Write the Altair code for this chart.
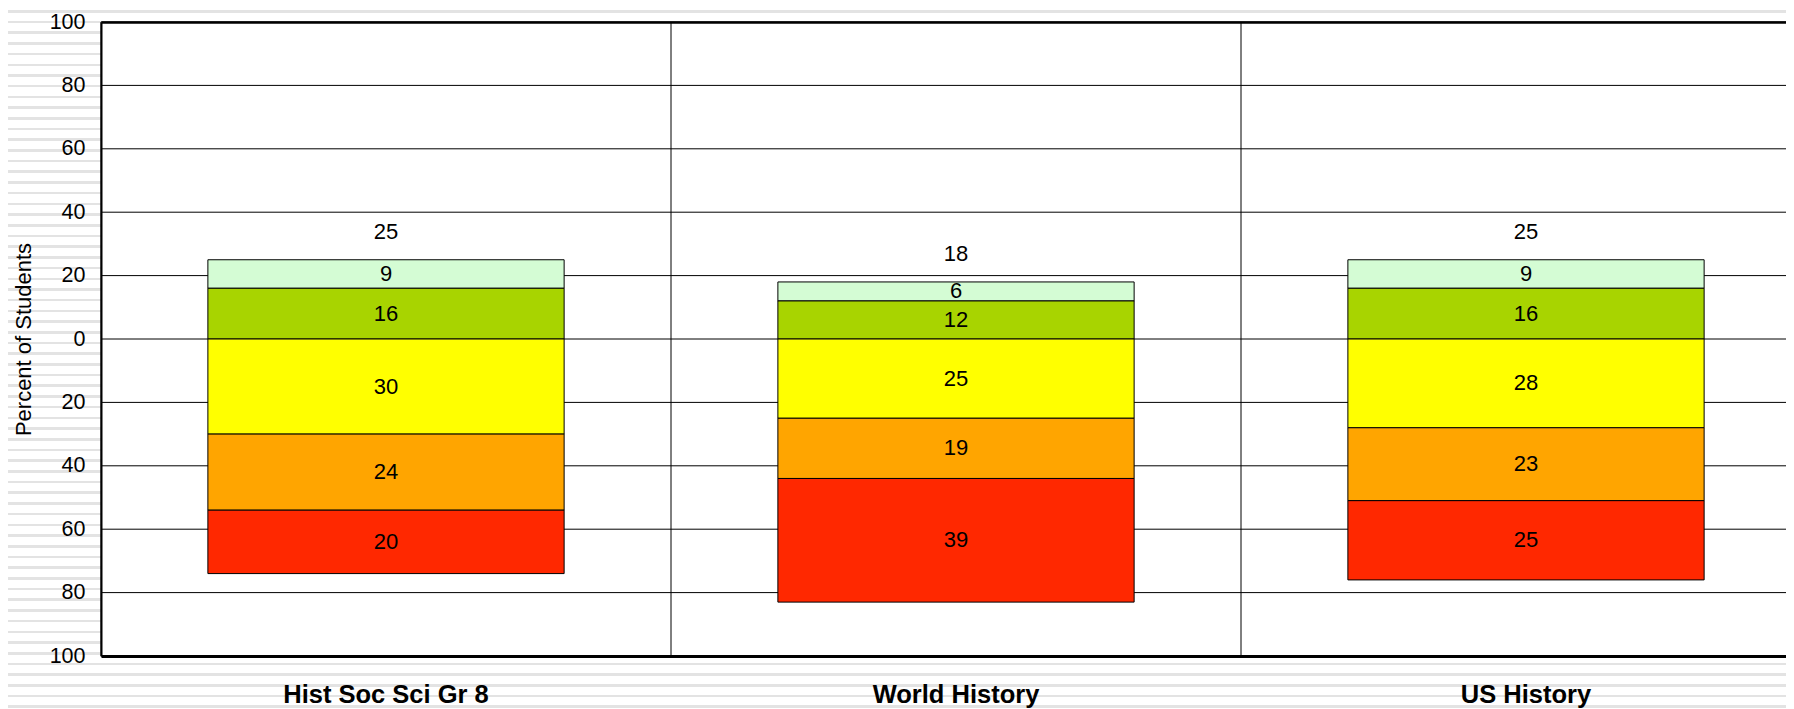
import altair as alt
import pandas as pd

# ---------------- data ----------------
categories = ["Hist Soc Sci Gr 8", "World History", "US History"]
levels = ["L5", "L4", "L3", "L2", "L1"]
level5 = [9, 6, 9]        # light green (top, above 0)
level4 = [16, 12, 16]     # green (above 0)
level3 = [30, 25, 28]     # yellow (below 0)
level2 = [24, 19, 23]     # orange (below 0)
level1 = [20, 39, 25]     # red (below 0)
totals = [25, 18, 25]     # total above zero
level_colors = ["#D4FCD4", "#A8D400", "#FFFF00", "#FFA500", "#FF2800"]
y_ticks = [-100, -80, -60, -40, -20, 0, 20, 40, 60, 80, 100]

spec = [("L5", level5, 1, 1), ("L4", level4, 1, 0),
        ("L3", level3, -1, 0), ("L2", level2, -1, 1), ("L1", level1, -1, 2)]
rows = []
for i, c in enumerate(categories):
    for lvl, vals, sign, rank in spec:
        rows.append({"cat": c, "level": lvl, "value": vals[i],
                     "signed": sign * vals[i], "rank": rank})
df = pd.DataFrame(rows)
tot_df = pd.DataFrame({"cat": categories, "total": totals})
grid_df = pd.DataFrame({"v": y_ticks})
cat_df = pd.DataFrame({"cat": categories})

# ---------------- layout ----------------
W, H = 1685, 634
PAD_L, PAD_T, PAD_B = 93, 14, 53
FONT = "Liberation Sans"

# background stripes (decoration) as hard-stop gradients
STRIPE_START = -12.0
STRIPE_PERIOD = 10.7
STRIPE_THICK = 2.6
STRIPE_COLOR = "#e3e3e3"


def stripes(y0, y1):
    span = y1 - y0
    stops = [{"offset": 0.0, "color": "white"}]
    k = 0
    while True:
        s = STRIPE_START + k * STRIPE_PERIOD
        e = s + STRIPE_THICK
        k += 1
        if s > y1:
            break
        if e < y0:
            continue
        a = max(0.0, (s - y0) / span)
        b = min(1.0, (e - y0) / span)
        stops.append({"offset": a, "color": "white"})
        stops.append({"offset": a, "color": STRIPE_COLOR})
        stops.append({"offset": b, "color": STRIPE_COLOR})
        stops.append({"offset": b, "color": "white"})
    stops.append({"offset": 1.0, "color": "white"})
    return {"gradient": "linear", "x1": 0, "y1": 0, "x2": 0, "y2": 1, "stops": stops}


one = alt.Data(values=[{"a": 1}])
top_y, bot_y = -PAD_T, H + PAD_B
left_bg = alt.Chart(one).mark_rect(fill=stripes(top_y, bot_y), strokeWidth=0).encode(
    x=alt.value(-PAD_L), x2=alt.value(0), y=alt.value(top_y), y2=alt.value(bot_y))
top_bg = alt.Chart(one).mark_rect(fill=stripes(top_y, 0), strokeWidth=0).encode(
    x=alt.value(0), x2=alt.value(W), y=alt.value(top_y), y2=alt.value(0))
bot_bg = alt.Chart(one).mark_rect(fill=stripes(H, bot_y), strokeWidth=0).encode(
    x=alt.value(0), x2=alt.value(W), y=alt.value(H), y2=alt.value(bot_y))

# ---------------- scales / axes ----------------
xscale = alt.Scale(domain=categories, range=[0, 1710], paddingInner=0, paddingOuter=0)
yscale = alt.Scale(domain=[-100, 100], nice=False, zero=False)

x_bottom = alt.Axis(orient="bottom", title=None, grid=False, ticks=False, tickSize=0,
                    labelAngle=0, labelFont=FONT, labelFontSize=25.5, labelFontWeight="bold",
                    labelColor="black", labelPadding=46, labelBaseline="alphabetic",
                    labelLimit=0, domainColor="black", domainWidth=3, zindex=1)
x_top = alt.Axis(orient="top", title=None, labels=False, ticks=False, tickSize=0,
                 grid=False, domainColor="black", domainWidth=2.5, zindex=1)
y_axis = alt.Axis(values=y_ticks, labelExpr="abs(datum.value)", title="Percent of Students",
                  grid=False, domainColor="black", domainWidth=2, ticks=False, tickSize=0,
                  labelPadding=16, labelFont=FONT, labelFontSize=21.5, labelColor="black",
                  titleFont=FONT, titleFontSize=22, titleFontWeight="normal", titleColor="black",
                  titleAngle=270, titleBaseline="alphabetic", titleX=-71, zindex=1)

# horizontal and vertical grid lines, drawn behind the bars
hgrid = alt.Chart(grid_df).mark_rule(color="black", strokeWidth=1).encode(
    y=alt.Y("v:Q", scale=yscale, axis=None))
vgrid = alt.Chart(cat_df).mark_rule(color="black", strokeWidth=1).encode(
    x=alt.X("cat:N", sort=categories, scale=xscale, axis=None, bandPosition=0))

base = alt.Chart(df).transform_stack(
    stack="signed", as_=["y0", "y1"], groupby=["cat"],
    sort=[alt.SortField("rank", order="ascending")]
).transform_calculate(mid="(datum.y0 + datum.y1) / 2")

bars = base.mark_bar(stroke="black", strokeWidth=1, width=alt.RelativeBandSize(0.625)).encode(
    x=alt.X("cat:N", sort=categories, scale=xscale, axis=x_bottom),
    y=alt.Y("y0:Q", scale=yscale, axis=y_axis),
    y2="y1:Q",
    color=alt.Color("level:N", scale=alt.Scale(domain=levels, range=level_colors), legend=None),
)

seg_labels = base.mark_text(font=FONT, fontSize=22, color="black", baseline="middle").encode(
    x=alt.X("cat:N", sort=categories, scale=xscale, axis=x_top),
    y=alt.Y("mid:Q", scale=yscale, axis=None),
    text=alt.Text("value:Q"),
)

tot_labels = alt.Chart(tot_df).mark_text(font=FONT, fontSize=22, color="black",
                                         baseline="middle", dy=-28).encode(
    x=alt.X("cat:N", sort=categories, scale=xscale, axis=None),
    y=alt.Y("total:Q", scale=yscale, axis=None),
    text=alt.Text("total:Q"),
)

chart = alt.layer(left_bg, top_bg, bot_bg, hgrid, vgrid, bars, seg_labels, tot_labels).resolve_axis(
    x="independent", y="independent"
).properties(
    width=W, height=H,
    autosize=alt.AutoSizeParams(type="none"),
    padding={"left": PAD_L, "top": PAD_T, "right": 0, "bottom": PAD_B},
).configure_view(strokeWidth=0)

chart.save("out.html", embed_options={"renderer": "svg", "actions": False})
